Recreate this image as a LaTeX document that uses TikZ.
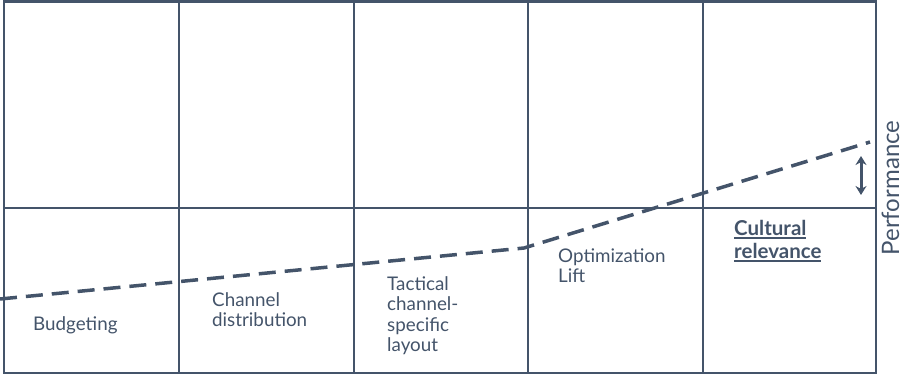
\documentclass[tikz,border=0pt]{standalone}
\usepackage{fontspec}
\setmainfont{Lato}
\usetikzlibrary{arrows.meta}
\definecolor{slate}{HTML}{44546A}
\newcommand\myul[1]{\setbox0\hbox{#1}\rlap{\copy0}\rule[-3.6pt]{\wd0}{1.8pt}}
\begin{document}
\begin{tikzpicture}[x=1pt,y=-1pt,
  grid/.style={draw=slate,line width=1.4pt},
  perf/.style={draw=slate,line width=3.5pt,dash pattern=on 17pt off 9pt},
  lbl/.style={anchor=north west,inner sep=0pt,align=left,text=slate,font=\fontsize{18.8}{20.5}\selectfont}]
\useasboundingbox (0,0) rectangle (920,375);
\coordinate (tl) at (4,1.5);
\coordinate (br) at (876,373);
\draw[grid] (tl) rectangle (br);
\draw[draw=slate,line width=3pt] (3.3,1.5) -- (876.7,1.5);
\coordinate (h1) at (4,208); \coordinate (h2) at (876,208);
\draw[grid] (h1) -- (h2);
\foreach \x [count=\i] in {179,354,528,703}{
  \coordinate (t\i) at (\x,1.5); \coordinate (b\i) at (\x,373);
  \draw[grid] (t\i) -- (b\i);
}
\coordinate (p0) at (0,299);
\coordinate (p1) at (524,248);
\coordinate (p2) at (870,142);
\draw[perf] (p0) -- (p1) -- (p2);
\coordinate (a1) at (861,156);
\coordinate (a2) at (861,195);
\draw[slate,line width=3pt,{Stealth[length=9pt,width=11pt]}-{Stealth[length=9pt,width=11pt]}] (a1) -- (a2);
\node[lbl] (bud) at (33,330-14.35) {\strut Budgeting};
\node[lbl] (chd) at (212,306-14.35) {\strut Channel\\distribution};
\node[lbl] (tac) at (387,290-14.35) {\strut Tactical\\channel-\\specific\\layout};
\node[lbl] (opt) at (558,262-14.35) {\strut Optimization\\Lift};
\node[lbl,font=\fontsize{20.5}{23}\selectfont\bfseries] (cul) at (734,235-16.1) {\strut\myul{Cultural}\\\myul{relevance}};
\node[rotate=90,anchor=base,inner sep=0pt,text=slate,font=\fontsize{24}{28}\selectfont] (per) at (899,188) {Performance};
\end{tikzpicture}
\end{document}
